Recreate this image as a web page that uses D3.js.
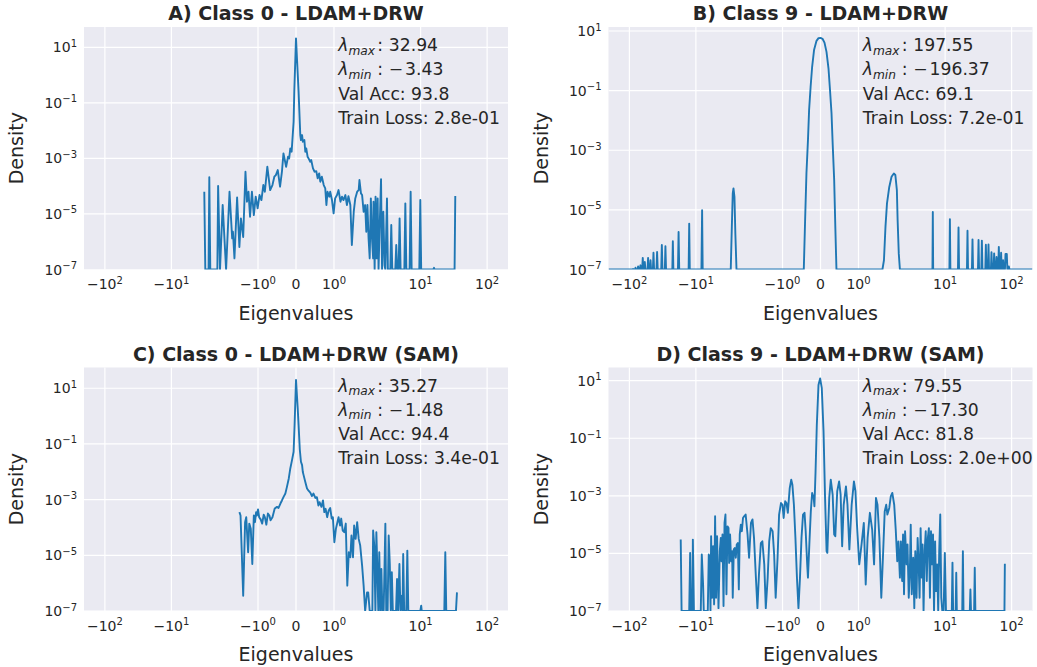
<!DOCTYPE html>
<html><head><meta charset="utf-8">
<script src="https://cdn.jsdelivr.net/npm/d3@7"></script>
<style>body{margin:0;background:#fff;} svg{display:block;font-family:"DejaVu Sans",sans-serif;}</style>
</head><body><svg id="chart" width="1037" height="667"></svg>
<script>
// ---------- tick labels ----------
const xTickValues = [-100, -10, -1, 0, 1, 10, 100];
const xTickBase = ["\u221210", "\u221210", "\u221210", "0", "10", "10", "10"];
const xTickExp = ["2", "1", "0", "", "0", "1", "2"];
const yTickValues = [1e1, 1e-1, 1e-3, 1e-5, 1e-7];
const yTickExp = ["1", "\u22121", "\u22123", "\u22125", "\u22127"];

// ---------- panel texts ----------
const titles = ["A) Class 0 - LDAM+DRW", "B) Class 9 - LDAM+DRW", "C) Class 0 - LDAM+DRW (SAM)", "D) Class 9 - LDAM+DRW (SAM)"];
const lambdaMax = ["32.94", "197.55", "35.27", "79.55"];
const lambdaMin = ["3.43", "196.37", "1.48", "17.30"];
const valAcc = ["93.8", "69.1", "94.4", "81.8"];
const trainLoss = ["2.8e-01", "7.2e-01", "3.4e-01", "2.0e+00"];
const yTopLog10 = [1.73, 1.135, 1.746, 1.458];

// ---------- spectra: [eigenvalue, log10(density)] ----------
const spectrumA = [[-3.20,-4.20],[-3.09,-7],[-2.76,-7],[-2.69,-3.68],[-2.60,-7],[-2.07,-7],[-2.05,-3.99],[-2.00,-7],[-1.93,-4.68],[-1.84,-7],[-1.75,-4.20],[-1.68,-5.88],[-1.66,-5.64],[-1.62,-6.60],[-1.55,-4.41],[-1.49,-6.19],[-1.45,-5.16],[-1.39,-5.83],[-1.33,-3.48],[-1.29,-4.56],[-1.25,-4.20],[-1.21,-5.10],[-1.16,-4.20],[-1.11,-5.04],[-1.06,-4.38],[-1.01,-4.80],[-0.96,-4.32],[-0.91,-4.50],[-0.86,-3.96],[-0.82,-4.20],[-0.755,-3.30],[-0.68,-4.14],[-0.62,-3.96],[-0.57,-3.66],[-0.53,-3.60],[-0.48,-3.42],[-0.42,-4.02],[-0.37,-3.48],[-0.33,-2.82],[-0.26,-3.30],[-0.21,-2.94],[-0.18,-3.00],[-0.15,-2.64],[-0.115,-2.76],[-0.063,-1.68],[-0.045,-0.60],[0,1.32],
[0.068,-0.60],[0.113,-2.16],[0.13,-2.34],[0.16,-2.16],[0.18,-2.40],[0.22,-2.34],[0.245,-2.76],[0.27,-2.64],[0.305,-2.94],[0.33,-3.00],[0.376,-3.12],[0.40,-3.06],[0.447,-3.36],[0.49,-3.48],[0.534,-3.46],[0.57,-3.72],[0.61,-3.54],[0.64,-3.84],[0.68,-3.66],[0.73,-3.96],[0.77,-4.08],[0.80,-4.68],[0.83,-4.20],[0.876,-4.38],[0.90,-4.20],[0.947,-4.50],[0.99,-4.98],[1.03,-4.44],[1.08,-4.32],[1.12,-4.14],[1.17,-4.56],[1.21,-4.38],[1.25,-4.50],[1.30,-4.32],[1.34,-4.68],[1.38,-4.36],[1.43,-4.68],[1.47,-6.12],[1.52,-4.92],[1.56,-4.44],[1.61,-4.20],[1.65,-4.14],[1.67,-3.78],[1.71,-4.26],[1.74,-4.32],[1.78,-4.92],[1.82,-4.68],[1.85,-5.64],[1.88,-4.68],[1.91,-5.88],[1.94,-6.60],[1.97,-4.44],[2.00,-5.88],[2.03,-6.60],[2.04,-4.56],[2.07,-7],[2.10,-4.38],[2.18,-6.60],[2.26,-4.44],[2.33,-7],[2.41,-5.64],[2.54,-3.75],[2.63,-7],[2.75,-4.92],[2.87,-6.85],[2.95,-7],[3.12,-4.44],[3.22,-7],[3.50,-7],[3.62,-5.40],[3.75,-7],[4.16,-7],[4.30,-6.12],[4.46,-7],[4.67,-7],[4.83,-5.16],[5.00,-7],[5.69,-7],[5.89,-4.62],[6.10,-7],[6.83,-7],[7.08,-4.20],[7.33,-7],[9.55,-7],[9.89,-4.50],[10.2,-7],[15.5,-7],[15.9,-6.94],[16.2,-7],[32.4,-7],[33.2,-4.35]];

const spectrumB = [[-205,-7],[-90,-7],[-88,-6.98],[-86,-7],[-82.5,-7],[-80.9,-6.94],[-79.3,-7],[-75.4,-7],[-73.9,-6.90],[-72.4,-7],[-69.5,-7],[-68.1,-6.86],[-66.7,-7],[-64.2,-7],[-62.9,-6.61],[-61.6,-7],[-59.8,-7],[-58.6,-6.75],[-57.4,-7],[-53.3,-7],[-52.3,-6.61],[-51.3,-7],[-49.1,-7],[-48.1,-6.69],[-47.1,-7],[-44.3,-7],[-43.4,-6.44],[-42.5,-7],[-39.1,-7],[-38.3,-6.41],[-37.5,-7],[-33.2,-7],[-32.5,-6.18],[-31.8,-7],[-29.3,-7],[-28.7,-6.22],[-28.1,-7],[-22.6,-7],[-22.2,-6.05],[-21.8,-7],[-18.6,-7],[-18.2,-5.74],[-17.8,-7],[-12.85,-7],[-12.6,-5.46],[-12.35,-7],[-8.25,-7],[-8.06,-5.01],[-7.9,-7],
[-2.99,-7],[-2.88,-5.57],[-2.79,-4.45],[-2.72,-4.28],[-2.63,-4.56],[-2.55,-5.79],[-2.45,-7],
[-0.44,-7],[-0.405,-5.35],[-0.37,-3.78],[-0.33,-2.66],[-0.30,-1.65],[-0.26,-0.87],[-0.22,-0.20],[-0.17,0.36],[-0.105,0.67],[-0.053,0.76],[0,0.77],[0.053,0.74],[0.105,0.61],[0.158,0.30],[0.21,-0.25],[0.25,-0.98],[0.29,-1.76],[0.32,-2.77],[0.36,-4.00],[0.39,-5.57],[0.42,-7],
[1.63,-7],[1.67,-6.69],[1.71,-5.57],[1.75,-4.78],[1.81,-4.23],[1.87,-3.89],[1.93,-3.78],[1.97,-3.83],[2.01,-4.34],[2.03,-5.35],[2.06,-6.46],[2.09,-7],
[6.45,-7],[6.53,-5.07],[6.61,-7],[11.6,-7],[11.8,-5.31],[12.0,-7],[15.6,-7],[15.9,-5.59],[16.2,-7],[21.3,-7],[21.7,-5.70],[22.1,-7],[25.3,-7],[25.8,-5.99],[26.3,-7],[31.2,-7],[31.8,-6.01],[32.4,-7],[35.0,-7],[35.7,-6.03],[36.4,-7],[40.2,-7],[41.0,-6.17],[41.8,-7],[44.0,-7],[44.9,-6.16],[45.8,-7],[48.8,-7],[49.8,-6.42],[50.8,-7],[53.5,-7],[54.6,-6.46],[55.7,-7],[58.1,-7],[59.3,-6.58],[60.5,-7],[62.9,-7],[64.2,-6.24],[65.5,-7],[68.1,-7],[69.5,-6.44],[70.9,-7],[73.0,-7],[74.5,-6.69],[76.0,-7],[79.3,-7],[80.9,-6.48],[84.6,-6.48],[86.3,-7],[89.0,-7],[90.8,-6.90],[92.6,-7],[205,-7]];

const spectrumC = [[-1.49,-3.45],[-1.46,-3.57],[-1.39,-6.45],[-1.34,-3.81],[-1.31,-3.63],[-1.26,-4.89],[-1.23,-3.86],[-1.19,-4.05],[-1.15,-5.31],[-1.11,-3.57],[-1.08,-3.81],[-1.05,-3.45],[-1.03,-3.57],[-1.00,-3.35],[-0.97,-3.63],[-0.93,-3.71],[-0.89,-3.86],[-0.85,-3.54],[-0.82,-3.63],[-0.78,-3.90],[-0.74,-3.50],[-0.70,-3.57],[-0.67,-3.74],[-0.62,-3.63],[-0.56,-3.32],[-0.50,-3.26],[-0.46,-3.30],[-0.41,-3.14],[-0.37,-3.03],[-0.33,-2.91],[-0.28,-2.78],[-0.24,-2.55],[-0.19,-2.24],[-0.15,-1.88],[-0.105,-1.58],[-0.063,-1.28],[-0.037,-0.32],[0,1.30],
[0.045,0.28],[0.068,-0.32],[0.10,-1.20],[0.13,-1.64],[0.16,-1.76],[0.18,-2.01],[0.20,-2.12],[0.245,-2.37],[0.29,-2.60],[0.33,-2.68],[0.376,-2.75],[0.42,-2.87],[0.46,-2.78],[0.51,-2.94],[0.55,-2.91],[0.59,-3.21],[0.62,-3.09],[0.67,-3.26],[0.71,-3.03],[0.745,-3.45],[0.78,-3.33],[0.82,-3.63],[0.86,-3.39],[0.90,-3.30],[0.94,-3.68],[0.97,-3.63],[1.01,-4.53],[1.05,-4.05],[1.09,-3.81],[1.12,-3.63],[1.16,-3.93],[1.19,-3.68],[1.23,-4.11],[1.27,-4.17],[1.31,-3.86],[1.35,-6.09],[1.39,-4.89],[1.43,-5.07],[1.46,-4.29],[1.50,-5.07],[1.53,-3.93],[1.57,-4.41],[1.61,-3.81],[1.65,-4.41],[1.69,-4.65],[1.74,-5.37],[1.78,-6.09],[1.82,-7],[1.87,-6.33],[1.90,-6.33],[1.94,-7],[2.01,-7],[2.03,-4.11],[2.06,-4.65],[2.09,-7],[2.16,-4.17],[2.23,-5.37],[2.31,-7],[2.39,-4.89],[2.48,-7],[2.57,-5.49],[2.66,-7],[2.78,-7],[2.95,-3.86],[3.04,-7],[3.19,-7],[3.31,-4.29],[3.44,-5.31],[3.56,-7],[3.69,-5.61],[3.82,-7],[4.27,-7],[4.42,-5.85],[4.58,-7],[4.80,-5.31],[4.97,-7],[5.21,-6.45],[5.34,-7],[5.47,-4.95],[5.66,-7],[6.09,-7],[6.31,-4.83],[6.53,-7],[9.89,-7],[10.2,-6.81],[10.4,-7],[22.7,-7],[23.5,-4.89],[24.3,-7],[34.0,-7],[35.2,-6.33]];

const spectrumD = [[-16.9,-4.52],[-16.4,-7],[-12.6,-7],[-12.2,-4.98],[-11.9,-7],[-11.3,-7],[-11.1,-4.52],[-10.7,-7],[-8.44,-7],[-8.15,-5.04],[-7.79,-6.08],[-7.61,-7],[-6.62,-7],[-6.40,-5.04],[-6.18,-5.15],[-6.03,-7],[-5.90,-4.40],[-5.70,-6.54],[-5.51,-4.75],[-5.32,-6.77],[-5.14,-3.71],[-4.97,-6.54],[-4.80,-4.40],[-4.57,-6.9],[-4.37,-4.92],[-4.22,-4.46],[-4.12,-5.27],[-3.98,-4.34],[-3.84,-6.83],[-3.71,-3.94],[-3.59,-3.65],[-3.47,-6.42],[-3.35,-4.06],[-3.23,-4.12],[-3.16,-5.33],[-3.06,-4.34],[-2.95,-5.27],[-2.85,-4.92],[-2.79,-6.54],[-2.69,-4.86],[-2.60,-4.81],[-2.51,-5.15],[-2.43,-4.69],[-2.34,-4.64],[-2.26,-6.25],[-2.19,-4.34],[-2.11,-4.00],[-2.07,-4.23],[-2.04,-3.77],[-2.01,-3.71],[-1.97,-3.65],[-1.92,-4.34],[-1.88,-5.15],[-1.83,-3.94],[-1.79,-3.82],[-1.75,-4.46],[-1.70,-5.84],[-1.66,-6.9],[-1.62,-5.73],[-1.57,-4.64],[-1.53,-4.58],[-1.48,-5.38],[-1.44,-6.9],[-1.39,-5.84],[-1.35,-4.58],[-1.31,-4.12],[-1.26,-4.23],[-1.22,-5.04],[-1.18,-6.54],[-1.13,-5.15],[-1.09,-3.65],[-1.04,-3.25],[-1.00,-3.31],[-0.97,-3.77],[-0.93,-3.19],[-0.895,-3.25],[-0.86,-3.59],[-0.81,-2.73],[-0.77,-2.44],[-0.74,-2.61],[-0.70,-3.31],[-0.66,-4.46],[-0.62,-5.84],[-0.58,-6.9],[-0.54,-5.84],[-0.50,-4.46],[-0.46,-3.65],[-0.42,-3.59],[-0.39,-4.23],[-0.35,-5.38],[-0.33,-5.84],[-0.29,-4.58],[-0.255,-3.54],[-0.22,-2.90],[-0.18,-3.07],[-0.16,-3.36],[-0.13,-2.15],[-0.097,-0.53],[-0.053,0.85],[-0.01,1.08],
[0.034,0.74],[0.08,-0.77],[0.12,-3.07],[0.16,-4.92],[0.18,-4.98],[0.23,-3.07],[0.27,-2.44],[0.32,-2.96],[0.36,-4.34],[0.39,-4.40],[0.44,-2.84],[0.49,-2.50],[0.53,-2.96],[0.57,-4.75],[0.61,-3.31],[0.67,-2.67],[0.71,-3.31],[0.76,-4.86],[0.82,-3.31],[0.88,-2.50],[0.92,-2.84],[0.96,-4.00],[1.02,-5.38],[1.08,-4.69],[1.14,-3.94],[1.19,-6.08],[1.24,-4.46],[1.30,-3.59],[1.36,-4.17],[1.41,-5.38],[1.46,-3.07],[1.50,-3.31],[1.55,-4.46],[1.60,-6.54],[1.65,-4.92],[1.69,-3.54],[1.73,-3.31],[1.76,-3.65],[1.81,-3.42],[1.85,-3.02],[1.89,-2.90],[1.94,-3.31],[1.98,-4.17],[2.02,-5.27],[2.05,-4.58],[2.09,-5.84],[2.16,-4.58],[2.26,-5.96],[2.33,-4.34],[2.41,-6.42],[2.50,-4.23],[2.63,-5.38],[2.72,-4.69],[2.84,-6.54],[2.95,-5.61],[3.04,-4.00],[3.15,-6.42],[3.31,-5.15],[3.44,-6.9],[3.56,-4.92],[3.72,-6.54],[3.86,-4.46],[3.99,-5.27],[4.13,-6.54],[4.28,-4.12],[4.43,-5.84],[4.58,-4.69],[4.74,-7],[4.93,-4.92],[5.11,-4.23],[5.30,-5.96],[5.50,-4.46],[5.70,-4.12],[5.91,-6.54],[6.13,-4.23],[6.35,-5.38],[6.58,-4.34],[6.81,-7],[7.07,-4.58],[7.32,-6.31],[7.59,-5.38],[7.87,-7],[8.15,-4.92],[8.45,-3.65],[8.76,-6.54],[9.07,-7],[9.5,-7],[9.9,-4.98],[10.3,-7],[12.6,-7],[12.9,-5.32],[13.2,-7],[14.4,-7],[14.7,-5.67],[15.0,-7],[18.1,-7],[18.5,-4.92],[18.9,-7],[23.5,-7],[24.0,-6.25],[24.5,-7],[27.3,-7],[27.9,-5.50],[28.5,-7],[78.0,-7],[79.1,-5.36]];

const spectra = [spectrumA, spectrumB, spectrumC, spectrumD];

// ---------- layout ----------
const TEXT = "#262626", LINE = "#1f77b4", BG = "#EAEAF2";
const panelLeft = [84, 608.5, 84, 608.5];
const panelTop = [27, 27, 367.5, 367.5];
const panelW = 424;
const panelH = [242.5, 242.5, 243.5, 243.5];
const X_LIM = 206;
// symmetric-log axis transform (linear near 0, logarithmic beyond threshold)
const LIN_THRESH = 2.09, LIN_SCALE = 1.194;
function symT(v) {
  const a = Math.abs(v);
  const t = a <= LIN_THRESH ? a * LIN_SCALE : LIN_THRESH * (LIN_SCALE + Math.log10(a / LIN_THRESH));
  return Math.sign(v) * t;
}

const svg = d3.select("#chart");
svg.append("rect").attr("width", 1037).attr("height", 667).attr("fill", "#fff");

function supLabel(textSel, base, exp, supSize, dy) {
  textSel.append("tspan").text(base);
  if (exp) textSel.append("tspan").attr("font-size", supSize).attr("dy", dy).text(exp);
}

spectra.forEach((data, i) => {
  const w = panelW, h = panelH[i];
  const g = svg.append("g").attr("transform", `translate(${panelLeft[i]},${panelTop[i]})`);
  const xLin = d3.scaleLinear().domain([symT(-X_LIM), symT(X_LIM)]).range([0, w]);
  const xs = v => xLin(symT(v));
  const ys = d3.scaleLog().domain([1e-7, Math.pow(10, yTopLog10[i])]).range([h, 0]);

  g.append("rect").attr("width", w).attr("height", h).attr("fill", BG);
  const clipId = "clip" + i;
  g.append("clipPath").attr("id", clipId).append("rect").attr("width", w).attr("height", h);

  // grid
  g.selectAll(".gx").data(xTickValues).join("line")
    .attr("x1", d => xs(d)).attr("x2", d => xs(d)).attr("y1", 0).attr("y2", h)
    .attr("stroke", "#fff").attr("stroke-width", 1.2);
  g.selectAll(".gy").data(yTickValues).join("line")
    .attr("x1", 0).attr("x2", w).attr("y1", d => ys(d)).attr("y2", d => ys(d))
    .attr("stroke", "#fff").attr("stroke-width", 1.2).attr("clip-path", `url(#${clipId})`);

  // curve
  const line = d3.line().x(d => xs(d[0])).y(d => ys(Math.pow(10, d[1])));
  g.append("path").datum(data).attr("d", line)
    .attr("fill", "none").attr("stroke", LINE).attr("stroke-width", 1.9)
    .attr("stroke-linejoin", "round").attr("clip-path", `url(#${clipId})`);

  // x tick labels
  xTickValues.forEach((v, k) => {
    const t = g.append("text").attr("x", xs(v)).attr("y", h + 19.5)
      .attr("text-anchor", "middle").attr("font-size", 14).attr("fill", TEXT);
    supLabel(t, xTickBase[k], xTickExp[k], 10, -5.5);
  });
  // y tick labels
  yTickValues.forEach((v, k) => {
    const t = g.append("text").attr("x", -7).attr("y", ys(v) + 5)
      .attr("text-anchor", "end").attr("font-size", 14).attr("fill", TEXT);
    supLabel(t, "10", yTickExp[k], 10, -5.5);
  });

  // title and axis labels
  g.append("text").attr("x", w / 2).attr("y", -7).attr("text-anchor", "middle")
    .attr("font-size", 19).attr("font-weight", "bold").attr("fill", TEXT).text(titles[i]);
  g.append("text").attr("x", w / 2).attr("y", h + 50).attr("text-anchor", "middle")
    .attr("font-size", 19).attr("fill", TEXT).text("Eigenvalues");
  g.append("text").attr("transform", `translate(-61,${h / 2}) rotate(-90)`).attr("text-anchor", "middle")
    .attr("font-size", 19).attr("fill", TEXT).text("Density");

  // annotation
  const x0 = 254.3, fs = 17.2;
  const r1 = g.append("text").attr("y", 24).attr("font-size", fs).attr("fill", TEXT);
  r1.append("tspan").attr("x", x0).attr("font-style", "italic").text("\u03bb");
  r1.append("tspan").attr("font-style", "italic").attr("font-size", 12.2).attr("dy", 3.5).text("max");
  r1.append("tspan").attr("x", x0 + 39).attr("dy", -3.5).text(":");
  r1.append("tspan").attr("x", x0 + 50.5).text(lambdaMax[i]);

  const r2 = g.append("text").attr("y", 48.3).attr("font-size", fs).attr("fill", TEXT);
  r2.append("tspan").attr("x", x0).attr("font-style", "italic").text("\u03bb");
  r2.append("tspan").attr("font-style", "italic").attr("font-size", 12.2).attr("dy", 3.5).text("min");
  r2.append("tspan").attr("x", x0 + 39).attr("dy", -3.5).text(":");
  r2.append("tspan").attr("x", x0 + 50.5).text("\u2212");
  r2.append("tspan").attr("x", x0 + 66.8).text(lambdaMin[i]);

  g.append("text").attr("x", x0).attr("y", 72.5).attr("font-size", fs).attr("fill", TEXT)
    .text("Val Acc: " + valAcc[i]);
  g.append("text").attr("x", x0).attr("y", 96.8).attr("font-size", fs).attr("fill", TEXT)
    .text("Train Loss: " + trainLoss[i]);
});
</script>
</body></html>
